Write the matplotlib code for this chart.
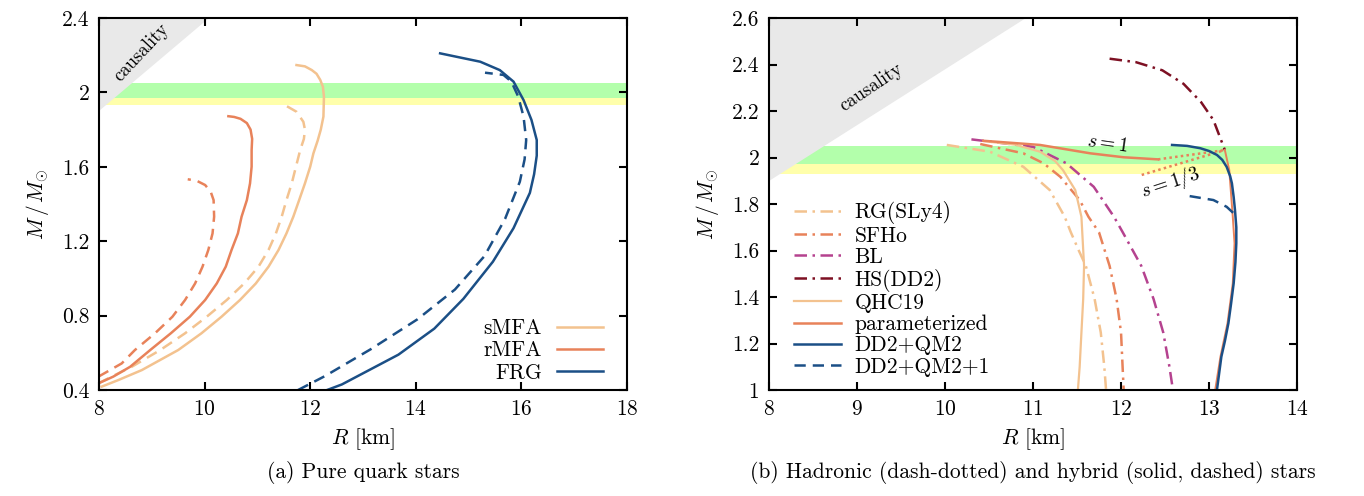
import matplotlib
matplotlib.use("Agg")
import matplotlib.pyplot as plt

plt.rcParams['font.family'] = 'serif'
plt.rcParams['font.serif'] = ['cmr10']
plt.rcParams['mathtext.fontset'] = 'cm'
plt.rcParams['axes.formatter.use_mathtext'] = True

# colours
LIGHT = '#f3c28f'
ORANGE = '#e8825a'
BLUE = '#1b4f86'
MAGENTA = '#b5428f'
DARKRED = '#7d1023'

# ---------------- (a) pure quark stars ----------------
smfa_R = [8.05, 8.37, 8.81, 9.50, 9.94, 10.32, 10.67, 10.97, 11.21, 11.40, 11.55, 11.68, 11.79, 11.90,
          12.00, 12.06, 12.14, 12.20, 12.25, 12.26, 12.24, 12.19, 12.12, 12.03, 11.90, 11.74]
smfa_M = [0.418, 0.454, 0.507, 0.615, 0.705, 0.794, 0.884, 0.973, 1.063, 1.153, 1.242, 1.332, 1.421, 1.511,
          1.601, 1.672, 1.74, 1.80, 1.87, 1.977, 2.03, 2.067, 2.10, 2.12, 2.14, 2.147]
smfa2_R = [7.99, 8.24, 8.62, 9.16, 9.63, 10.04, 10.42, 10.75, 11.02, 11.21, 11.35, 11.46, 11.55, 11.65,
           11.73, 11.81, 11.88, 11.90, 11.87, 11.74, 11.55]
smfa2_M = [0.436, 0.472, 0.525, 0.615, 0.705, 0.794, 0.884, 0.973, 1.063, 1.153, 1.242, 1.332, 1.421, 1.511,
           1.601, 1.69, 1.75, 1.80, 1.842, 1.896, 1.927]

rmfa_R = [7.99, 8.27, 8.59, 8.97, 9.36, 9.72, 10.01, 10.23, 10.40, 10.51, 10.63, 10.70, 10.80, 10.86,
          10.89, 10.89, 10.90, 10.87, 10.80, 10.68, 10.56, 10.45]
rmfa_M = [0.436, 0.472, 0.525, 0.615, 0.705, 0.794, 0.884, 0.973, 1.063, 1.153, 1.242, 1.332, 1.421, 1.511,
          1.601, 1.69, 1.75, 1.80, 1.835, 1.858, 1.868, 1.872]
rmfa2_R = [7.99, 8.43, 8.68, 9.06, 9.39, 9.63, 9.82, 9.96, 10.07, 10.15, 10.18, 10.17, 10.115, 10.01,
           9.85, 9.68]
rmfa2_M = [0.472, 0.543, 0.615, 0.705, 0.794, 0.884, 0.973, 1.063, 1.153, 1.242, 1.332, 1.421, 1.466, 1.502,
           1.525, 1.533]

frg_R = [12.32, 12.6, 13.67, 14.35, 14.9, 15.46, 15.85, 16.16, 16.24, 16.29, 16.29, 16.19, 16.04, 15.85,
         15.59, 15.22, 14.46]
frg_M = [0.40, 0.43, 0.59, 0.73, 0.89, 1.09, 1.27, 1.46, 1.56, 1.66, 1.744, 1.852, 1.959, 2.058,
         2.12, 2.165, 2.21]
frg2_R = [11.77, 12.28, 13.15, 14.03, 14.74, 15.30, 15.69, 15.97, 16.06, 16.09, 16.04, 15.94, 15.81,
          15.66, 15.31]
frg2_M = [0.40, 0.475, 0.62, 0.78, 0.94, 1.12, 1.32, 1.52, 1.64, 1.744, 1.87, 1.977, 2.058,
          2.094, 2.106]

# ---------------- (b) hadronic and hybrid stars ----------------
sly4_R = [10.02, 10.51, 10.89, 11.19, 11.36, 11.43, 11.52, 11.60, 11.70, 11.77, 11.81, 11.83]
sly4_M = [2.054, 2.025, 1.96, 1.86, 1.745, 1.678, 1.60, 1.534, 1.391, 1.247, 1.10, 1.0]
sfho_R = [10.40, 10.89, 11.12, 11.31, 11.53, 11.63, 11.75, 11.87, 11.95, 12.0, 12.03]
sfho_M = [2.058, 2.018, 1.975, 1.917, 1.817, 1.745, 1.678, 1.534, 1.391, 1.247, 1.0]
bl_R = [10.30, 11.0, 11.38, 11.69, 11.92, 12.02, 12.23, 12.37, 12.48, 12.55, 12.59]
bl_M = [2.078, 2.046, 1.975, 1.874, 1.745, 1.678, 1.534, 1.391, 1.247, 1.10, 1.0]
dd2_R = [11.87, 12.17, 12.47, 12.71, 12.91, 13.05, 13.18]
dd2_M = [2.425, 2.41, 2.375, 2.317, 2.238, 2.161, 2.032]
qhc_R = [10.45, 10.80, 11.08, 11.25, 11.34, 11.48, 11.55, 11.58, 11.57, 11.55, 11.53, 11.51]
qhc_M = [2.07, 2.055, 2.025, 1.985, 1.946, 1.86, 1.745, 1.534, 1.391, 1.247, 1.10, 1.0]

par_s1_R = [10.435, 11.08, 11.65, 12.03, 12.42]
par_s1_M = [2.072, 2.054, 2.018, 2.001, 1.992]
par_s1u_R = [12.42, 13.18]
par_s1u_M = [1.992, 2.032]
par_s3u_R = [12.235, 13.18]
par_s3u_M = [1.925, 2.032]
par_had_R = [13.18, 13.23, 13.27, 13.29, 13.27, 13.21, 13.13, 13.07]
par_had_M = [2.032, 1.946, 1.745, 1.631, 1.459, 1.287, 1.143, 1.0]

qm2_R = [12.58, 12.75, 12.90, 13.00, 13.09, 13.15, 13.20, 13.24, 13.26, 13.28, 13.295, 13.31, 13.31,
         13.30, 13.28, 13.25, 13.22, 13.18, 13.14, 13.09]
qm2_M = [2.054, 2.05, 2.04, 2.028, 2.011, 1.99, 1.96, 1.92, 1.889, 1.83, 1.774, 1.70, 1.631,
         1.55, 1.459, 1.37, 1.287, 1.21, 1.143, 1.0]
qm21_R = [12.78, 13.05, 13.20, 13.28, 13.30]
qm21_M = [1.834, 1.817, 1.788, 1.76, 1.745]

# observational bands and causality limit
band_green = (1.97, 2.05)
band_yellow = (1.93, 1.97)
caus_a_R = [8.0, 8.0, 10.09]
caus_a_M = [1.90, 2.4, 2.4]
caus_b_R = [8.0, 8.0, 10.92]
caus_b_M = [1.90, 2.6, 2.6]

DASH = (0, (4.5, 2.8))
DASHDOT = (0, (5, 2.2, 1, 2.2))
DOT = (0, (1, 1.3))
LW = 1.8
FS = 15.5

fig = plt.figure(figsize=(13.64, 4.96), dpi=100)
ax1 = fig.add_axes([0.0726, 0.2137, 0.3871, 0.75])
ax2 = fig.add_axes([0.5638, 0.2137, 0.3871, 0.75])


def background(ax, caus_R, caus_M, xlim):
    ax.axhspan(*band_yellow, color='#ffffab', lw=0, zorder=0)
    ax.axhspan(*band_green, color='#b3ffab', lw=0, zorder=0)
    ax.fill(caus_R, caus_M, color='#e9e9e9', lw=0, zorder=1)
    ax.set_xlim(*xlim)


background(ax1, caus_a_R, caus_a_M, (8, 18))
ax1.set_ylim(0.4, 2.4)
ax1.plot(smfa_R, smfa_M, color=LIGHT, lw=LW, label='sMFA')
ax1.plot(smfa2_R, smfa2_M, color=LIGHT, lw=LW, ls=DASH)
ax1.plot(rmfa_R, rmfa_M, color=ORANGE, lw=LW, label='rMFA')
ax1.plot(rmfa2_R, rmfa2_M, color=ORANGE, lw=LW, ls=DASH)
ax1.plot(frg_R, frg_M, color=BLUE, lw=LW, label='FRG')
ax1.plot(frg2_R, frg2_M, color=BLUE, lw=LW, ls=DASH)
ax1.text(8.8, 2.215, 'causality', rotation=47, ha='center', va='center', fontsize=13.5)
ax1.set_xticks([8, 10, 12, 14, 16, 18])
ax1.set_yticks([0.4, 0.8, 1.2, 1.6, 2.0, 2.4])
ax1.set_yticklabels(['0.4', '0.8', '1.2', '1.6', '2', '2.4'])
leg1 = ax1.legend(loc='lower right', markerfirst=False, frameon=False, fontsize=FS,
                  handlelength=2.15, labelspacing=0.12, handletextpad=0.7,
                  borderaxespad=0.0, bbox_to_anchor=(0.971, -0.003))

background(ax2, caus_b_R, caus_b_M, (8, 14))
ax2.set_ylim(1.0, 2.6)
ax2.plot(sly4_R, sly4_M, color=LIGHT, lw=LW, ls=DASHDOT, label='RG(SLy4)')
ax2.plot(sfho_R, sfho_M, color=ORANGE, lw=LW, ls=DASHDOT, label='SFHo')
ax2.plot(bl_R, bl_M, color=MAGENTA, lw=LW, ls=DASHDOT, label='BL')
ax2.plot(dd2_R, dd2_M, color=DARKRED, lw=LW, ls=DASHDOT, label='HS(DD2)')
ax2.plot(qhc_R, qhc_M, color=LIGHT, lw=1.6, label='QHC19')
ax2.plot(par_s1_R, par_s1_M, color=ORANGE, lw=LW, label='parameterized')
ax2.plot(par_s1u_R, par_s1u_M, color=ORANGE, lw=LW, ls=DOT)
ax2.plot(par_s3u_R, par_s3u_M, color=ORANGE, lw=LW, ls=DOT)
ax2.plot(par_had_R, par_had_M, color=ORANGE, lw=1.4)
ax2.plot(qm2_R, qm2_M, color=BLUE, lw=LW, label='DD2+QM2')
ax2.plot(qm21_R, qm21_M, color=BLUE, lw=LW, ls=DASH, label='DD2+QM2+1')
ax2.text(9.16, 2.30, 'causality', rotation=34, ha='center', va='center', fontsize=13.5)
ax2.text(11.84, 2.06, '$s = 1$', rotation=-8, ha='center', va='center', fontsize=14)
ax2.text(12.56, 1.893, '$s = 1/3$', rotation=18, ha='center', va='center', fontsize=14)
ax2.set_xticks([8, 9, 10, 11, 12, 13, 14])
ax2.set_yticks([1.0, 1.2, 1.4, 1.6, 1.8, 2.0, 2.2, 2.4, 2.6])
ax2.set_yticklabels(['1', '1.2', '1.4', '1.6', '1.8', '2', '2.2', '2.4', '2.6'])
leg2 = ax2.legend(loc='upper left', frameon=False, fontsize=FS, handlelength=2.2,
                  labelspacing=0.08, handletextpad=0.6, borderaxespad=0.0,
                  bbox_to_anchor=(0.031, 0.53))

for ax in (ax1, ax2):
    ax.tick_params(direction='in', length=6, width=1.5, top=True, right=True,
                   labelsize=FS, pad=7)
    for sp in ax.spines.values():
        sp.set_linewidth(1.5)
    ax.set_xlabel('$R$ [km]', fontsize=FS, labelpad=5)
    ax.set_ylabel(r'$M\,/\,M_{\odot}$', fontsize=FS, labelpad=8)

fig.text(0.0726 + 0.3871 / 2, 0.047, '(a) Pure quark stars', ha='center', va='center', fontsize=FS)
fig.text(0.5638 + 0.3871 / 2, 0.047, '(b) Hadronic (dash-dotted) and hybrid (solid, dashed) stars',
         ha='center', va='center', fontsize=FS)

fig.savefig('out.png', dpi=100)
